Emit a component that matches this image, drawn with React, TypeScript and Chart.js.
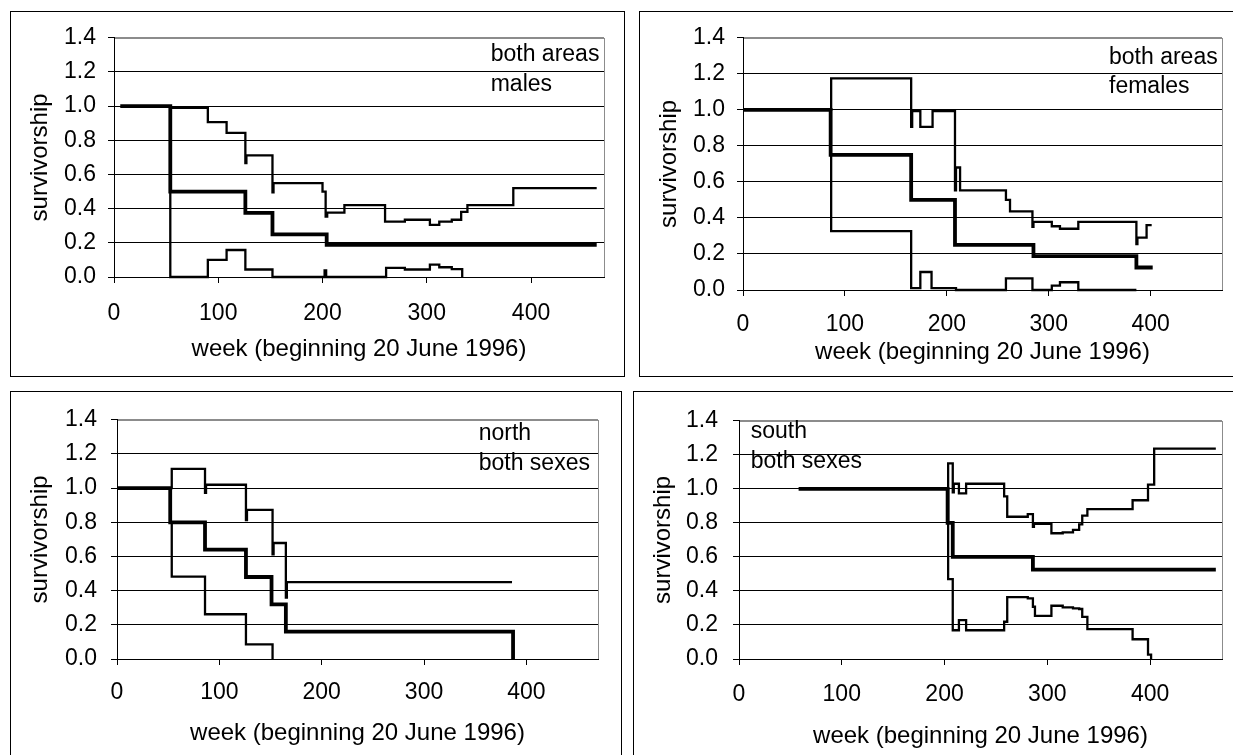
import React, { useEffect, useRef } from "react";
import { Chart, registerables } from "chart.js";

Chart.register(...registerables);

const FONT_FAMILY = '"Liberation Sans", Arial, Helvetica, sans-serif';

// ---------- axes ----------
const X_MIN = 0;
const X_MAX = 470;
const X_STEP = 100;
const Y_MIN = 0;
const Y_MAX = 1.4;
const Y_STEP = 0.2;
const xTickLabels = ["0", "100", "200", "300", "400"];
const yTickLabels = ["0.0", "0.2", "0.4", "0.6", "0.8", "1.0", "1.2", "1.4"];
const X_TITLE = "week (beginning 20 June 1996)";
const Y_TITLE = "survivorship";

// ---------- panel 1: both areas, males ----------
const malesNotes = ["both areas", "males"];
const malesMeanWeeks = [6, 54, 126, 152, 204, 463];
const malesMeanValues = [1.0, 0.5, 0.375, 0.25, 0.1875, 0.1875];
const malesUpperWeeks = [54, 90, 108, 126, 127, 152, 153, 200, 203, 204.5, 221, 260, 279, 303, 312, 324, 333, 339, 383, 463];
const malesUpperValues = [0.99, 0.907, 0.844, 0.667, 0.712, 0.495, 0.549, 0.5, 0.354, 0.377, 0.421, 0.324, 0.335, 0.305, 0.324, 0.335, 0.381, 0.421, 0.52, 0.52];
const malesLowerWeeks = [54, 54, 90, 108, 126, 152, 202, 203.5, 261, 279, 303, 312, 324, 334];
const malesLowerValues = [0.5, 0, 0.1, 0.158, 0.044, 0, 0.038, 0, 0.053, 0.044, 0.072, 0.057, 0.046, 0];

// ---------- panel 2: both areas, females ----------
const femalesNotes = ["both areas", "females"];
const femalesMeanWeeks = [1, 86, 165, 208, 285, 386, 402];
const femalesMeanValues = [1.0, 0.75, 0.5, 0.25, 0.1875, 0.125, 0.125];
const femalesUpperWeeks = [86, 86.5, 165, 166, 174, 186, 208, 209, 213, 258, 262, 284, 285, 303, 311, 329, 386, 387, 396, 401];
const femalesUpperValues = [1.0, 1.175, 0.906, 0.993, 0.906, 0.993, 0.553, 0.68, 0.553, 0.5, 0.436, 0.351, 0.378, 0.354, 0.34, 0.378, 0.255, 0.291, 0.36, 0.36];
const femalesLowerWeeks = [86, 86.5, 165, 174, 185, 209, 258, 284, 303, 311, 329, 386];
const femalesLowerValues = [0.75, 0.327, 0.01, 0.1, 0.01, 0, 0.065, 0, 0.024, 0.043, 0, 0];

// ---------- panel 3: north, both sexes ----------
const northNotes = ["north", "both sexes"];
const northMeanWeeks = [0, 52, 86, 126, 151, 165, 387];
const northMeanValues = [1.0, 0.8, 0.64, 0.48, 0.32, 0.16, 0];
const northUpperWeeks = [53, 53.5, 86, 87, 126, 127, 152, 153, 165, 166, 386];
const northUpperValues = [1.0, 1.113, 0.973, 1.02, 0.813, 0.873, 0.613, 0.679, 0.36, 0.45, 0.45];
const northLowerWeeks = [53, 53.5, 86, 126, 152];
const northLowerValues = [0.8, 0.482, 0.262, 0.086, 0];

// ---------- panel 4: south, both sexes ----------
const southNotes = ["south", "both sexes"];
const southMeanWeeks = [58, 203, 208, 286, 464];
const southMeanValues = [1.0, 0.8, 0.6, 0.525, 0.525];
const southUpperWeeks = [203, 203.5, 208, 209, 214, 221, 258, 261, 281, 286, 287, 304, 315, 325, 331, 334, 339, 383, 398, 404, 464];
const southUpperValues = [1.0, 1.15, 0.98, 1.03, 0.973, 1.03, 0.956, 0.836, 0.851, 0.776, 0.795, 0.739, 0.744, 0.759, 0.791, 0.843, 0.881, 0.933, 1.025, 1.237, 1.237];
const southLowerWeeks = [203, 203.5, 208, 214, 221, 258, 261, 281, 286, 288, 304, 315, 325, 331, 334, 339, 383, 398, 401];
const southLowerValues = [1.0, 0.47, 0.169, 0.229, 0.169, 0.219, 0.364, 0.356, 0.307, 0.253, 0.313, 0.304, 0.298, 0.294, 0.247, 0.176, 0.116, 0.026, 0];

// ---------- layout (page pixel positions) ----------
type Rect = { l: number; t: number; r: number; b: number };
type Layout = {
  box: Rect;
  plot: Rect;
  yTickRight: number;
  xTickCenter: number;
  xTitleY: number;
  yTitleX: number;
  noteX: number;
  noteBaselines: number[];
};

const layouts: Layout[] = [
  { box: { l: 10, t: 11, r: 625, b: 377 }, plot: { l: 114, t: 33, r: 604, b: 277 }, yTickRight: 96, xTickCenter: 313.5, xTitleY: 349, yTitleX: 40, noteX: 490.7, noteBaselines: [61, 91] },
  { box: { l: 639, t: 11, r: 1240, b: 377 }, plot: { l: 743, t: 32, r: 1222, b: 290 }, yTickRight: 725, xTickCenter: 325, xTitleY: 352, yTitleX: 669.5, noteX: 1109, noteBaselines: [64, 93] },
  { box: { l: 10, t: 391, r: 622, b: 762 }, plot: { l: 117, t: 410, r: 598, b: 659 }, yTickRight: 97, xTickCenter: 693, xTitleY: 733, yTitleX: 40.5, noteX: 478.7, noteBaselines: [440, 470] },
  { box: { l: 633, t: 391, r: 1240, b: 762 }, plot: { l: 739, t: 410, r: 1222, b: 659 }, yTickRight: 718, xTickCenter: 695, xTitleY: 736, yTitleX: 663.5, noteX: 750.7, noteBaselines: [438, 468] },
];

type Series = { weeks: number[]; values: number[]; thick: boolean };
type PanelData = { notes: string[]; series: Series[] };

const panels: PanelData[] = [
  {
    notes: malesNotes,
    series: [
      { weeks: malesUpperWeeks, values: malesUpperValues, thick: false },
      { weeks: malesLowerWeeks, values: malesLowerValues, thick: false },
      { weeks: malesMeanWeeks, values: malesMeanValues, thick: true },
    ],
  },
  {
    notes: femalesNotes,
    series: [
      { weeks: femalesUpperWeeks, values: femalesUpperValues, thick: false },
      { weeks: femalesLowerWeeks, values: femalesLowerValues, thick: false },
      { weeks: femalesMeanWeeks, values: femalesMeanValues, thick: true },
    ],
  },
  {
    notes: northNotes,
    series: [
      { weeks: northUpperWeeks, values: northUpperValues, thick: false },
      { weeks: northLowerWeeks, values: northLowerValues, thick: false },
      { weeks: northMeanWeeks, values: northMeanValues, thick: true },
    ],
  },
  {
    notes: southNotes,
    series: [
      { weeks: southUpperWeeks, values: southUpperValues, thick: false },
      { weeks: southLowerWeeks, values: southLowerValues, thick: false },
      { weeks: southMeanWeeks, values: southMeanValues, thick: true },
    ],
  },
];

const TICK_SIZE = 23;
const TITLE_SIZE = 24;
const NOTE_SIZE = 23;
const LINE_HEIGHT = 1.2;
const TICK_LEN = 6;
const PLOT_BORDER = "#8c8c8c";
const THIN_WIDTH = 2.3;
const THICK_WIDTH = 3.8;

function Panel({ layout, data }: { layout: Layout; data: PanelData }) {
  const ref = useRef<HTMLCanvasElement | null>(null);
  const cl = layout.box.l + 1;
  const ct = layout.box.t + 1;
  const W = layout.box.r - layout.box.l - 2;
  const H = layout.box.b - layout.box.t - 2;

  useEffect(() => {
    if (!ref.current) return;
    const p = layout.plot;
    const xAxisHeight = ct + H - p.b;
    const yAxisWidth = p.l - cl;
    const tickLH = TICK_SIZE * LINE_HEIGHT;
    const titleLH = TITLE_SIZE * LINE_HEIGHT;

    const plotFrame = {
      id: "plotFrame",
      beforeDraw(chart: any) {
        const { ctx, chartArea } = chart;
        ctx.save();
        ctx.strokeStyle = PLOT_BORDER;
        ctx.lineWidth = 1;
        ctx.strokeRect(
          Math.round(chartArea.left) + 0.5,
          Math.round(chartArea.top) + 0.5,
          Math.round(chartArea.right - chartArea.left),
          Math.round(chartArea.bottom - chartArea.top)
        );
        ctx.restore();
      },
      afterDraw(chart: any) {
        const { ctx } = chart;
        ctx.save();
        ctx.fillStyle = "#000";
        ctx.font = `${NOTE_SIZE}px ${FONT_FAMILY}`;
        ctx.textAlign = "left";
        ctx.textBaseline = "alphabetic";
        data.notes.forEach((txt, i) => {
          ctx.fillText(txt, layout.noteX - cl, layout.noteBaselines[i] - ct);
        });
        ctx.restore();
      },
    };

    const chart = new Chart(ref.current, {
      type: "line",
      data: {
        datasets: data.series.map((s) => ({
          data: s.weeks.map((w, i) => ({ x: w, y: s.values[i] })),
          borderColor: "#000",
          backgroundColor: "#000",
          borderWidth: s.thick ? THICK_WIDTH : THIN_WIDTH,
          pointRadius: 0,
          pointHoverRadius: 0,
          stepped: true,
          fill: false,
          tension: 0,
          clip: 4,
          borderJoinStyle: "miter",
        })),
      },
      options: {
        responsive: false,
        maintainAspectRatio: false,
        animation: false,
        events: [],
        layout: {
          padding: { left: 0, top: p.t - ct, right: cl + W - p.r, bottom: 0 },
        },
        plugins: {
          legend: { display: false },
          tooltip: { enabled: false },
        },
        scales: {
          x: {
            type: "linear",
            min: X_MIN,
            max: X_MAX,
            afterFit: (scale: any) => {
              scale.height = xAxisHeight;
            },
            ticks: {
              stepSize: X_STEP,
              includeBounds: false,
              autoSkip: false,
              maxRotation: 0,
              color: "#000",
              font: { family: FONT_FAMILY, size: TICK_SIZE, lineHeight: LINE_HEIGHT },
              padding: layout.xTickCenter - p.b - TICK_LEN - tickLH / 2,
              callback: (v: any, i: number) => xTickLabels[i] ?? String(v),
            },
            grid: {
              display: true,
              drawOnChartArea: false,
              drawTicks: true,
              tickLength: TICK_LEN,
              color: "#000",
              tickColor: "#000",
              lineWidth: 1,
            },
            border: { display: true, color: "#000", width: 1 },
            title: {
              display: true,
              text: X_TITLE,
              color: "#000",
              font: { family: FONT_FAMILY, size: TITLE_SIZE, lineHeight: LINE_HEIGHT },
              padding: { top: 0, bottom: ct + H - layout.xTitleY - titleLH / 2 },
            },
          },
          y: {
            type: "linear",
            min: Y_MIN,
            max: Y_MAX,
            afterFit: (scale: any) => {
              scale.width = yAxisWidth;
            },
            ticks: {
              stepSize: Y_STEP,
              autoSkip: false,
              color: "#000",
              font: { family: FONT_FAMILY, size: TICK_SIZE, lineHeight: LINE_HEIGHT },
              padding: p.l - layout.yTickRight - TICK_LEN,
              callback: (v: any, i: number) => yTickLabels[i] ?? Number(v).toFixed(1),
            },
            grid: {
              display: true,
              drawTicks: true,
              tickLength: TICK_LEN,
              color: (c: any) =>
                c.tick && Math.abs(c.tick.value - Y_MAX) < 1e-6 ? PLOT_BORDER : "#000",
              tickColor: "#000",
              lineWidth: 1,
            },
            border: { display: true, color: "#000", width: 1 },
            title: {
              display: true,
              text: Y_TITLE,
              color: "#000",
              font: { family: FONT_FAMILY, size: TITLE_SIZE, lineHeight: LINE_HEIGHT },
              padding: { top: layout.yTitleX - cl - titleLH / 2, bottom: 0 },
            },
          },
        },
      },
      plugins: [plotFrame],
    } as any);
    return () => chart.destroy();
  }, []);

  return (
    <div
      style={{
        position: "absolute",
        left: layout.box.l,
        top: layout.box.t,
        width: W,
        height: H,
        border: "1px solid #000",
        background: "#fff",
      }}
    >
      <canvas ref={ref} width={W} height={H} style={{ display: "block", width: W, height: H }} />
    </div>
  );
}

export default function App() {
  return (
    <div
      style={{
        position: "fixed",
        left: 0,
        top: 0,
        width: 1233,
        height: 755,
        overflow: "hidden",
        background: "#fff",
      }}
    >
      {layouts.map((lay, i) => (
        <Panel key={i} layout={lay} data={panels[i]} />
      ))}
    </div>
  );
}
